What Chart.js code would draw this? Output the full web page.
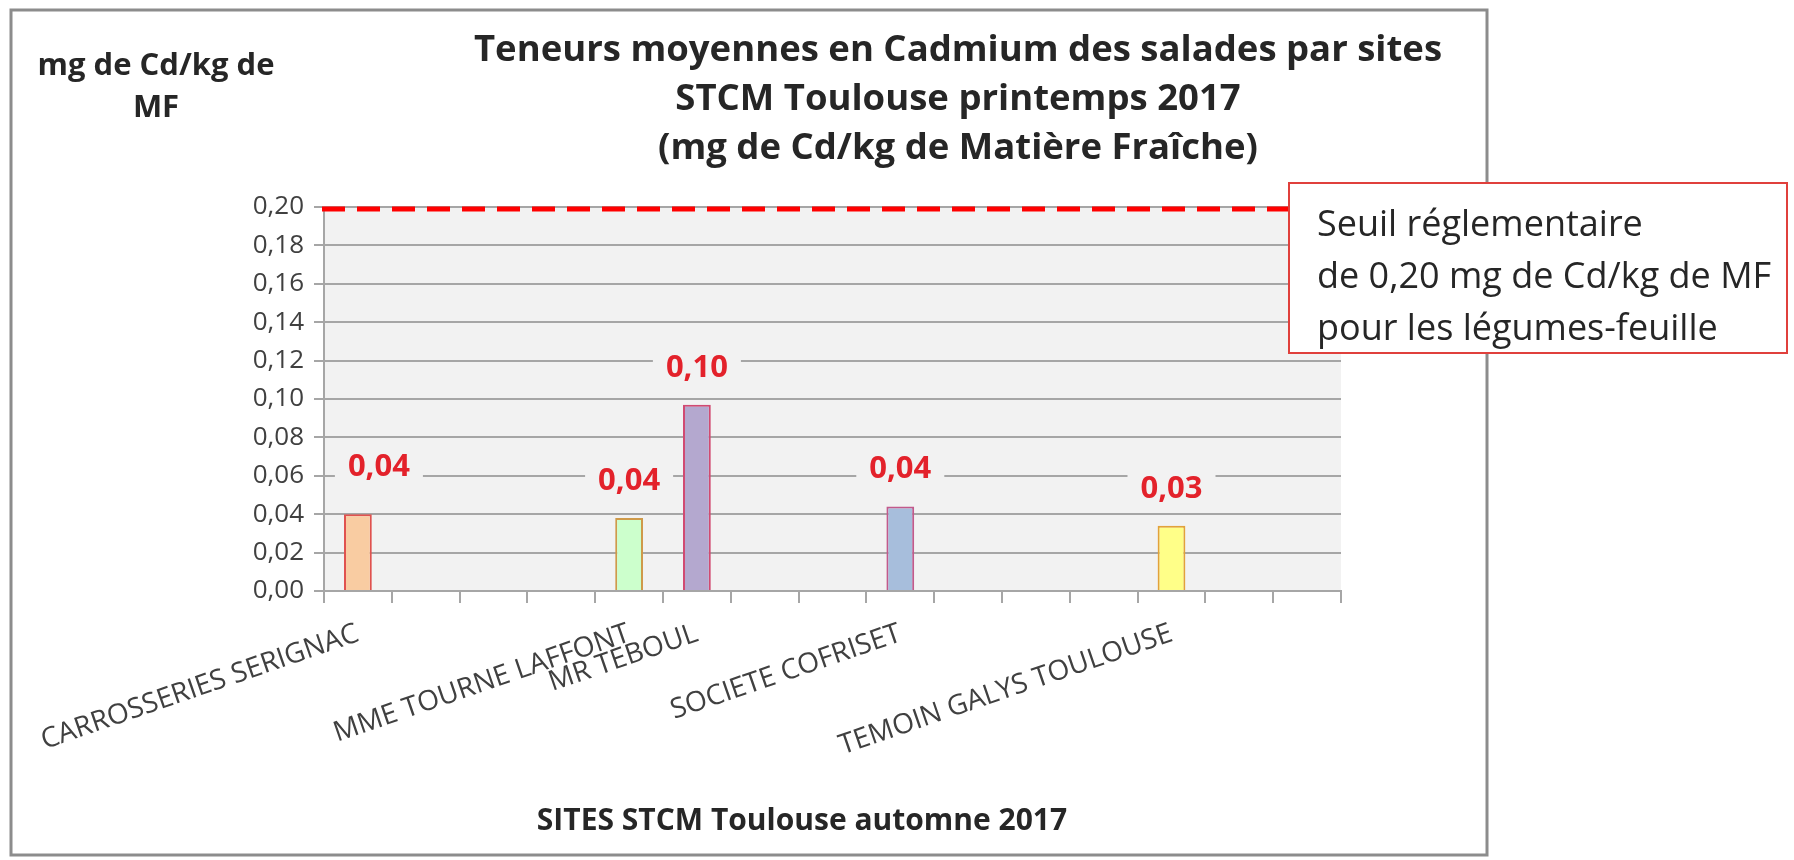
<!DOCTYPE html>
<html>
<head>
<meta charset="utf-8">
<script src="https://cdn.jsdelivr.net/npm/chart.js@4/dist/chart.umd.min.js"></script>
<style>
    html, body { margin: 0; padding: 0; background: #fff; }
    #wrap { width: 1794px; height: 860px; position: relative; }
</style>
</head>
<body>
<div id="wrap"><canvas id="cdChart"></canvas></div>
<script>
// ===== DATA =====
const categories = [
    'CARROSSERIES SERIGNAC', '', '', '',
    'MME TOURNE LAFFONT', 'MR TEBOUL', '', '',
    'SOCIETE COFRISET', '', '', '',
    'TEMOIN GALYS TOULOUSE', '', ''
];
const cadmium = [0.040, null, null, null, 0.038, 0.097, null, null, 0.044, null, null, null, 0.034, null, null];
const fillColors = ['#f9cca2', null, null, null, '#ccffcc', '#b4a8cf', null, null, '#a7bedc', null, null, null, '#ffff88', null, null];
const borderColors = ['#e0524f', null, null, null, '#cf9a4a', '#d14a72', null, null, '#c25a8c', null, null, null, '#e2a23a', null, null];
const yMin = 0;
const yMax = 0.20;
const yStep = 0.02;
const threshold = 0.20;

const titleLines = [
    'Teneurs moyennes en Cadmium des salades par sites',
    'STCM Toulouse printemps 2017',
    '(mg de Cd/kg de Matière Fraîche)'
];
const unitLines = ['mg de Cd/kg de', 'MF'];
const noteLines = [
    'Seuil réglementaire',
    'de 0,20 mg de Cd/kg de MF',
    'pour les légumes-feuille'
];
const xTitle = 'SITES STCM Toulouse automne 2017';

const FONT = "'Open Sans', 'DejaVu Sans', sans-serif";
const fmt = (v) => v.toFixed(2).replace('.', ',');

// frame, plot background, texts and the threshold line
const decorations = {
    id: 'decorations',
    beforeDraw(chart) {
        const { ctx, chartArea } = chart;
        ctx.save();
        ctx.fillStyle = '#ffffff';
        ctx.fillRect(0, 0, chart.width, chart.height);
        ctx.strokeStyle = '#8c8c8c';
        ctx.lineWidth = 3;
        ctx.strokeRect(11, 10, 1476, 845);
        ctx.fillStyle = '#f2f2f2';
        ctx.fillRect(chartArea.left, chartArea.top, chartArea.right - chartArea.left, chartArea.bottom - chartArea.top);
        ctx.restore();
    },
    afterDatasetsDraw(chart, args, opts) {
        const { ctx } = chart;
        const meta = chart.getDatasetMeta(0);
        ctx.save();
        ctx.font = `bold 31px ${FONT}`;
        ctx.textAlign = 'center';
        ctx.textBaseline = 'middle';
        meta.data.forEach((bar, i) => {
            const v = cadmium[i];
            if (v === null) return;
            const txt = fmt(v);
            const w = ctx.measureText(txt).width;
            const nudge = opts.nudge[i] || [0, 0];
            const cx = bar.x + nudge[0];
            const cy = bar.y - 37 + nudge[1];
            ctx.fillStyle = '#f2f2f2';
            ctx.fillRect(cx - w / 2 - 13, cy - 16, w + 26, 32);
            ctx.fillStyle = '#e3222b';
            ctx.fillText(txt, cx, cy);
        });
        ctx.restore();
    },
    afterDraw(chart) {
        const { ctx, chartArea } = chart;
        const y = chart.scales.y.getPixelForValue(threshold);
        ctx.save();

        // threshold dashed line
        ctx.strokeStyle = '#ff0000';
        ctx.lineWidth = 5;
        ctx.setLineDash([23, 12]);
        ctx.beginPath();
        ctx.moveTo(chartArea.left - 2, y + 2);
        ctx.lineTo(1289, y + 2);
        ctx.stroke();
        ctx.setLineDash([]);

        // note box
        ctx.fillStyle = '#ffffff';
        ctx.fillRect(1289, 183, 498, 170);
        ctx.strokeStyle = '#e0403c';
        ctx.lineWidth = 2;
        ctx.strokeRect(1289, 183, 498, 170);
        ctx.fillStyle = '#262626';
        ctx.font = `36px ${FONT}`;
        ctx.textAlign = 'left';
        ctx.textBaseline = 'middle';
        noteLines.forEach((t, i) => ctx.fillText(t, 1317, 226 + i * 52));

        // title
        ctx.fillStyle = '#262626';
        ctx.font = `bold 36.5px ${FONT}`;
        ctx.textAlign = 'center';
        titleLines.forEach((t, i) => ctx.fillText(t, 958, 51 + i * 49));

        // unit label
        ctx.font = `bold 31px ${FONT}`;
        unitLines.forEach((t, i) => ctx.fillText(t, 156, 66 + i * 42));

        // x axis title
        ctx.font = `bold 30px ${FONT}`;
        ctx.fillText(xTitle, 802, 821);
        ctx.restore();
    }
};

const ctx = document.getElementById('cdChart').getContext('2d');
new Chart(ctx, {
    type: 'bar',
    data: {
        labels: categories,
        datasets: [{
            data: cadmium,
            backgroundColor: fillColors,
            borderColor: borderColors,
            borderWidth: 2,
            categoryPercentage: 1,
            barPercentage: 0.41
        }]
    },
    options: {
        responsive: true,
        maintainAspectRatio: false,
        animation: false,
        layout: { padding: { top: 207, right: 453, left: 0, bottom: 0 } },
        plugins: {
            legend: { display: false },
            tooltip: { enabled: false },
            title: { display: false },
            decorations: { nudge: { 0: [21, -10] } }
        },
        scales: {
            x: {
                afterFit: (scale) => { scale.height = 269; },
                grid: {
                    offset: true,
                    drawOnChartArea: false,
                    color: '#a6a6a6',
                    lineWidth: 2,
                    tickLength: 12
                },
                border: { color: '#a6a6a6', width: 2 },
                ticks: {
                    autoSkip: false,
                    minRotation: 19,
                    maxRotation: 19,
                    padding: 14,
                    color: '#404040',
                    font: { family: FONT, size: 28 }
                }
            },
            y: {
                min: yMin,
                max: yMax,
                afterFit: (scale) => { scale.width = 324; },
                grid: {
                    color: '#a6a6a6',
                    lineWidth: 2,
                    tickLength: 10
                },
                border: { color: '#a6a6a6', width: 2 },
                ticks: {
                    stepSize: yStep,
                    padding: 10,
                    color: '#404040',
                    font: { family: FONT, size: 26 },
                    callback: (v) => fmt(v)
                }
            }
        }
    },
    plugins: [decorations]
});
</script>
</body>
</html>
